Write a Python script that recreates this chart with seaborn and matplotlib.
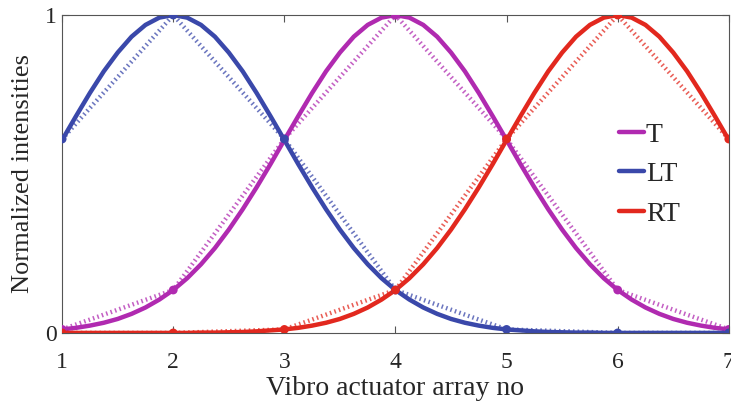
import pandas as pd
import matplotlib.pyplot as plt
import seaborn as sns

# --- values ---
x_pts = [1, 2, 3, 4, 5, 6, 7]
t_pts = [0.011, 0.135, 0.61, 1.00, 0.61, 0.135, 0.011]
lt_pts = [0.61, 1.00, 0.61, 0.135, 0.011, 0.0, 0.0]
rt_pts = [0.0, 0.0, 0.011, 0.135, 0.61, 1.00, 0.61]

# smooth curves, sampled every 1/8 of a unit
x_fine = [1, 1.125, 1.25, 1.375, 1.5, 1.625, 1.75, 1.875,
          2, 2.125, 2.25, 2.375, 2.5, 2.625, 2.75, 2.875,
          3, 3.125, 3.25, 3.375, 3.5, 3.625, 3.75, 3.875,
          4, 4.125, 4.25, 4.375, 4.5, 4.625, 4.75, 4.875,
          5, 5.125, 5.25, 5.375, 5.5, 5.625, 5.75, 5.875,
          6, 6.125, 6.25, 6.375, 6.5, 6.625, 6.75, 6.875, 7]
t_fine = [0.011, 0.016, 0.023, 0.032, 0.044, 0.060, 0.080, 0.105,
          0.135, 0.172, 0.216, 0.267, 0.325, 0.389, 0.458, 0.531,
          0.607, 0.682, 0.755, 0.823, 0.882, 0.932, 0.969, 0.992,
          1.000, 0.992, 0.969, 0.932, 0.882, 0.823, 0.755, 0.682,
          0.607, 0.531, 0.458, 0.389, 0.325, 0.267, 0.216, 0.172,
          0.135, 0.105, 0.080, 0.060, 0.044, 0.032, 0.023, 0.016, 0.011]
lt_fine = [0.607, 0.682, 0.755, 0.823, 0.882, 0.932, 0.969, 0.992,
           1.000, 0.992, 0.969, 0.932, 0.882, 0.823, 0.755, 0.682,
           0.607, 0.531, 0.458, 0.389, 0.325, 0.267, 0.216, 0.172,
           0.135, 0.105, 0.080, 0.060, 0.044, 0.032, 0.023, 0.016,
           0.011, 0.008, 0.005, 0.003, 0.002, 0.001, 0.001, 0.0,
           0.0, 0.0, 0.0, 0.0, 0.0, 0.0, 0.0, 0.0, 0.0]
rt_fine = [0.0, 0.0, 0.0, 0.0, 0.0, 0.0, 0.0, 0.0,
           0.0, 0.0, 0.001, 0.001, 0.002, 0.003, 0.005, 0.008,
           0.011, 0.016, 0.023, 0.032, 0.044, 0.060, 0.080, 0.105,
           0.135, 0.172, 0.216, 0.267, 0.325, 0.389, 0.458, 0.531,
           0.607, 0.682, 0.755, 0.823, 0.882, 0.932, 0.969, 0.992,
           1.000, 0.992, 0.969, 0.932, 0.882, 0.823, 0.755, 0.682, 0.607]

labels = ['T', 'LT', 'RT']
colors = {'T': '#B02AB0', 'LT': '#3A48AA', 'RT': '#E2281E'}

n_pts, n_fine = len(x_pts), len(x_fine)
pts = pd.DataFrame({'x': x_pts * 3,
                    'y': t_pts + lt_pts + rt_pts,
                    'series': ['T'] * n_pts + ['LT'] * n_pts + ['RT'] * n_pts})
fine = pd.DataFrame({'x': x_fine * 3,
                     'y': t_fine + lt_fine + rt_fine,
                     'series': ['T'] * n_fine + ['LT'] * n_fine + ['RT'] * n_fine})

sns.set_style("ticks")
plt.rcParams['font.family'] = ['Liberation Serif', 'DejaVu Serif']

fig = plt.figure(figsize=(7.31, 4.07), dpi=100)
ax = fig.add_axes([0.085, 0.182, 0.912, 0.781])

for s in labels:
    d = pts[pts['series'] == s]
    f = fine[fine['series'] == s]
    # dotted straight segments between the measured points
    sns.lineplot(data=d, x='x', y='y', ax=ax, color=colors[s], lw=3.2, alpha=0.75,
                 linestyle=(0, (0.35, 0.7)), estimator=None, sort=False, legend=False)
    # smooth fitted curve
    sns.lineplot(data=f, x='x', y='y', ax=ax, color=colors[s], lw=3.2,
                 estimator=None, sort=False, label=s)
    sns.scatterplot(data=d, x='x', y='y', ax=ax, color=colors[s], s=40,
                    edgecolor='none', zorder=5, legend=False)

ax.set_xlim(1, 7)
ax.set_ylim(0, 1)
ax.set_xticks(x_pts)
ax.set_yticks([0, 1])
ax.tick_params(direction='in', length=5, labelsize=17, top=True, right=True,
               color='#555555')
ax.tick_params(axis='x', pad=14)
ax.tick_params(axis='y', pad=4)
for sp in ax.spines.values():
    sp.set_color('#555555')
    sp.set_linewidth(0.8)
ax.set_xlabel('Vibro actuator array no', fontsize=20, labelpad=2)
ax.set_ylabel('Normalized intensities', fontsize=19, labelpad=8)

ax.legend(loc='upper left', bbox_to_anchor=(0.815, 0.706), frameon=False, fontsize=20,
          handlelength=0.9, handletextpad=0.05, labelspacing=0.5, borderpad=0)

fig.savefig('out.png', dpi=100)
